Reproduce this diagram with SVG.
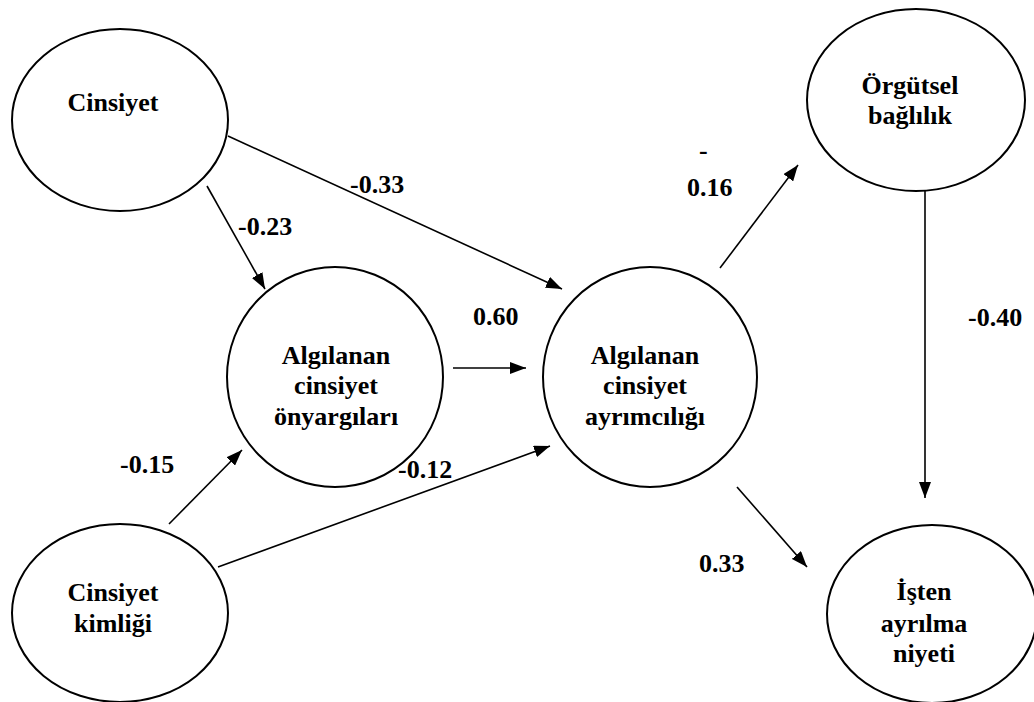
<svg xmlns="http://www.w3.org/2000/svg" width="1034" height="702" viewBox="0 0 1034 702">
<style>
.node{fill:#fff;stroke:#000;stroke-width:2}
.lbl{font-family:'Liberation Serif','DejaVu Serif',serif;font-weight:bold;font-size:26px;fill:#000}
.ct{text-anchor:middle}
.edge{stroke:#000;stroke-width:1.6;fill:none;marker-end:url(#ah)}
</style>
<defs>
<marker id="ah" viewBox="0 0 16 12" refX="16" refY="6" markerWidth="16" markerHeight="12" markerUnits="userSpaceOnUse" orient="auto">
<path d="M0,0 L16,6 L0,12 Z" fill="#000"/>
</marker>
</defs>
<rect width="1034" height="702" fill="#fff"/>
<g id="cinsiyet">
<ellipse class="node" cx="120" cy="120" rx="108" ry="91"/>
<text class="lbl ct" x="113" y="111" font-family="Liberation Serif, DejaVu Serif, serif">Cinsiyet</text>
</g>
<g id="onyargi">
<ellipse class="node" cx="335" cy="377" rx="108" ry="110"/>
<text class="lbl ct" x="336" y="364">Algılanan</text>
<text class="lbl ct" x="336" y="394">cinsiyet</text>
<text class="lbl ct" x="336" y="425">önyargıları</text>
</g>
<g id="ayrimcilik">
<ellipse class="node" cx="650" cy="377" rx="107" ry="110"/>
<text class="lbl ct" x="645" y="364">Algılanan</text>
<text class="lbl ct" x="645" y="394">cinsiyet</text>
<text class="lbl ct" x="645" y="425">ayrımcılığı</text>
</g>
<g id="orgutsel">
<ellipse class="node" cx="916" cy="100" rx="109" ry="91"/>
<text class="lbl ct" x="910" y="94">Örgütsel</text>
<text class="lbl ct" x="910" y="124">bağlılık</text>
</g>
<g id="kimlik">
<ellipse class="node" cx="120" cy="613" rx="108" ry="89"/>
<text class="lbl ct" x="113" y="601">Cinsiyet</text>
<text class="lbl ct" x="113" y="632">kimliği</text>
</g>
<g id="isten">
<ellipse class="node" cx="932" cy="614" rx="105" ry="89"/>
<text class="lbl ct" x="924" y="600">İşten</text>
<text class="lbl ct" x="924" y="632">ayrılma</text>
<text class="lbl ct" x="924" y="662">niyeti</text>
</g>
<g id="connectors">
<line class="edge" x1="207" y1="186" x2="265" y2="289"/>
<line class="edge" x1="228" y1="136" x2="562" y2="289"/>
<line class="edge" x1="453" y1="368" x2="526" y2="368"/>
<line class="edge" x1="169" y1="524" x2="242" y2="450"/>
<line class="edge" x1="218" y1="567" x2="550" y2="446"/>
<line class="edge" x1="720" y1="268" x2="798" y2="165"/>
<line class="edge" x1="925" y1="191" x2="925" y2="498"/>
<line class="edge" x1="737" y1="487" x2="807" y2="567"/>
</g>
<g id="labels">
<text class="lbl" x="238" y="235">-0.23</text>
<text class="lbl" x="350" y="193">-0.33</text>
<text class="lbl" x="473" y="325">0.60</text>
<text class="lbl" x="120" y="473">-0.15</text>
<text class="lbl" x="398" y="478">-0.12</text>
<text class="lbl" x="699" y="159">-</text>
<text class="lbl" x="687" y="196">0.16</text>
<text class="lbl" x="968" y="326">-0.40</text>
<text class="lbl" x="699" y="572">0.33</text>
</g>
</svg>
